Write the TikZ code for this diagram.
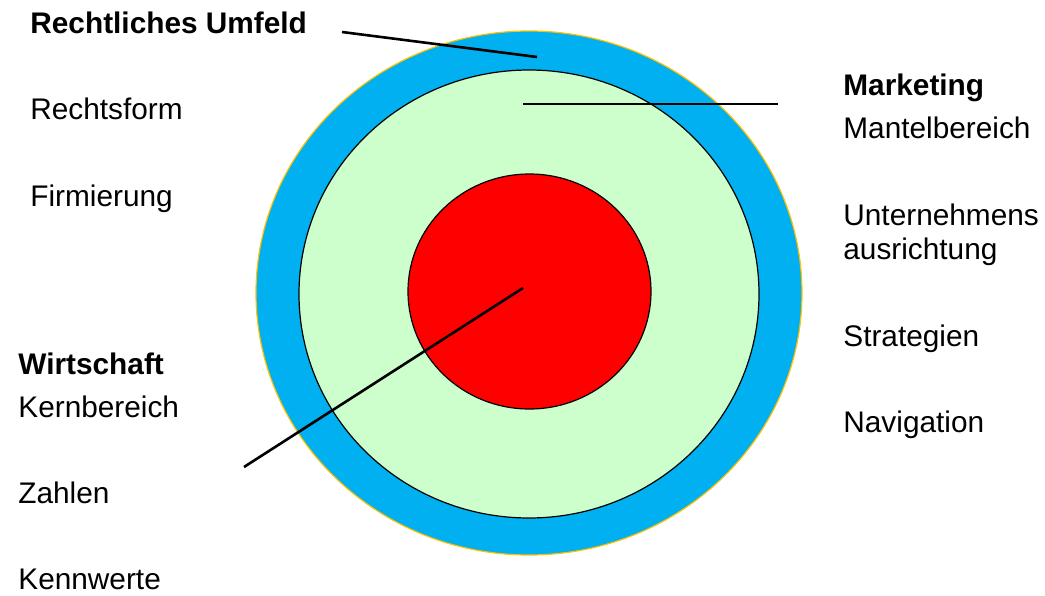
\documentclass[tikz,border=0pt]{standalone}
\usepackage{fontspec}
\setmainfont{Liberation Sans}
\usepackage{tikz}
\usetikzlibrary{positioning, calc}

\definecolor{umfeldblau}{HTML}{00B0F0}
\definecolor{umfeldrand}{HTML}{FFC000}
\definecolor{mantelgruen}{HTML}{CCFFCC}
\definecolor{kernrot}{HTML}{FF0000}

\tikzset{
  label/.style={anchor=base west, inner sep=0pt, align=left, font=\fontsize{14.9}{17}\selectfont},
  title/.style={label, font=\fontsize{14.9}{17}\selectfont\bfseries},
  leader/.style={draw=black, line width=1.3pt}
}

\begin{document}
\begin{tikzpicture}[x=0.5pt, y=-0.5pt]
  \useasboundingbox (0,0) rectangle (1045,595);

  % === KREISE ===
  \filldraw[fill=umfeldblau, draw=umfeldrand, line width=0.6pt] (529,293) ellipse (273 and 262);
  \filldraw[fill=mantelgruen, draw=black, line width=0.6pt] (529,294) ellipse (230 and 224);
  \filldraw[fill=kernrot, draw=black, line width=0.6pt] (529.5,291.5) ellipse (121.5 and 117.5);

  % === LINKS OBEN ===
  \node[title] (umfeld) at (30,33) {Rechtliches Umfeld};
  \node[label] (rechtsform) at (30,119) {Rechtsform};
  \node[label] (firmierung) at (30,206) {Firmierung};

  % === RECHTS ===
  \node[title] (marketing) at (843,95) {Marketing};
  \node[label] (mantel) at (843,138) {Mantelbereich};
  \node[label] (ausrichtung) at (843,259) {Unternehmens\\ausrichtung};
  \node[label] (strategien) at (843,346) {Strategien};
  \node[label] (navigation) at (843,432) {Navigation};

  % === LINKS UNTEN ===
  \node[title] (wirtschaft) at (18,374) {Wirtschaft};
  \node[label] (kern) at (18,417) {Kernbereich};
  \node[label] (zahlen) at (18,503) {Zahlen};
  \node[label] (kennwerte) at (18,589) {Kennwerte};

  % Hinweislinien
  \coordinate (umfeldA) at (342,32);
  \coordinate (umfeldB) at (537,57);
  \coordinate (mantelA) at (523,104);
  \coordinate (mantelB) at (778,104);
  \coordinate (kernA) at (523,288);
  \coordinate (kernB) at (244,467);
  \draw[leader] (umfeldA) -- (umfeldB);
  \draw[leader] (mantelA) -- (mantelB);
  \draw[leader] (kernA) -- (kernB);
\end{tikzpicture}
\end{document}
